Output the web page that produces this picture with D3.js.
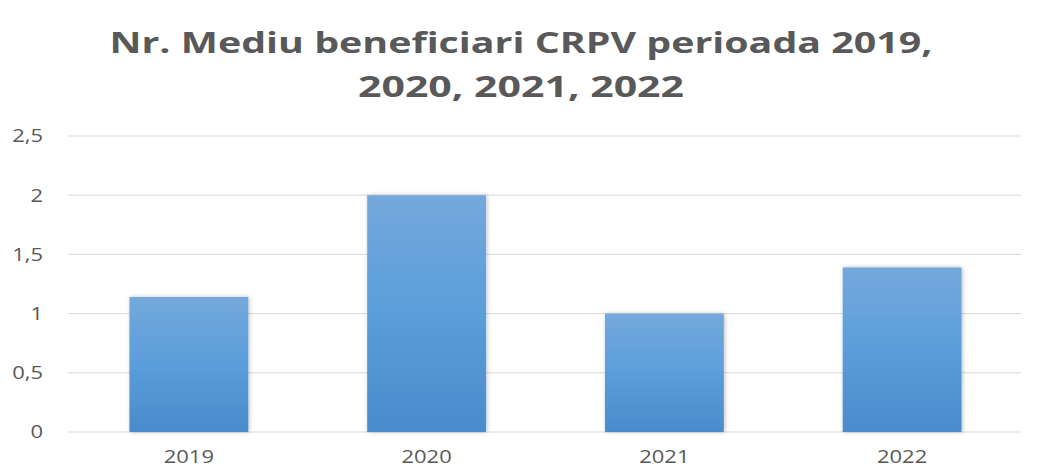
<!DOCTYPE html>
<html>
<head>
<meta charset="utf-8">
<script src="https://cdn.jsdelivr.net/npm/d3@7"></script>
<style>
  body { margin: 0; background: #fff; }
  text { font-family: "Open Sans", "Liberation Sans", sans-serif; }
</style>
</head>
<body>
<div class="canvas"></div>
<script>
// margins and dimensions
const w = 1043;
const h = 476;
const margin = { top: 136, right: 22, bottom: 44, left: 70 };
const graphWidth = w - margin.left - margin.right;
const graphHeight = h - margin.top - margin.bottom;
const stretch = 1.22; // the reference is a little wide, so text gets stretched

// data
const years = ["2019", "2020", "2021", "2022"];
const values = [1.14, 2, 1, 1.39];
const yTicks = [0, 0.5, 1, 1.5, 2, 2.5];
const titleLines = ["Nr. Mediu beneficiari CRPV perioada 2019,", "2020, 2021, 2022"];
const titleWidths = [823, 326];

const svg = d3.select(".canvas").append("svg").attr("width", w).attr("height", h);

// widen a text to match the stretched look
function widen(sel) {
  sel.each(function () {
    const len = this.getComputedTextLength();
    d3.select(this).attr("textLength", len * stretch).attr("lengthAdjust", "spacingAndGlyphs");
  });
}

// gradient + shadow for bars
const defs = svg.append("defs");
const grad = defs.append("linearGradient").attr("id", "barGrad")
  .attr("x1", 0).attr("y1", 0).attr("x2", 0).attr("y2", 1);
grad.append("stop").attr("offset", "0%").attr("stop-color", "#74a9dc");
grad.append("stop").attr("offset", "50%").attr("stop-color", "#5b9ddb");
grad.append("stop").attr("offset", "100%").attr("stop-color", "#4a8bcb");
const shadow = defs.append("filter").attr("id", "shadow")
  .attr("x", "-10%").attr("y", "-10%").attr("width", "120%").attr("height", "120%");
shadow.append("feDropShadow").attr("dx", 1).attr("dy", 0).attr("stdDeviation", 2)
  .attr("flood-color", "#000").attr("flood-opacity", 0.25);

// title
svg.append("g").selectAll("text").data(titleLines).join("text")
  .attr("x", 521)
  .attr("y", (d, i) => 53 + i * 44)
  .attr("text-anchor", "middle")
  .attr("fill", "#595959")
  .attr("font-weight", "bold")
  .attr("font-size", 29)
  .attr("textLength", (d, i) => titleWidths[i])
  .attr("lengthAdjust", "spacingAndGlyphs")
  .text(d => d);

const graph = svg.append("g")
  .attr("transform", `translate(${margin.left}, ${margin.top})`);

const xScale = d3.scaleBand().domain(years).range([0, graphWidth]).paddingInner(0.5).paddingOuter(0.25);
const yScale = d3.scaleLinear().domain([0, 2.5]).range([graphHeight, 0]);

// gridlines
graph.append("g").selectAll("line").data(yTicks).join("line")
  .attr("x1", -2).attr("x2", graphWidth)
  .attr("y1", d => yScale(d)).attr("y2", d => yScale(d))
  .attr("stroke", "#d9d9d9").attr("stroke-width", 1);

// y axis labels
graph.append("g").selectAll("text").data(yTicks).join("text")
  .attr("x", 43 - margin.left)
  .attr("y", d => yScale(d))
  .attr("dy", "0.35em")
  .attr("text-anchor", "end")
  .attr("fill", "#595959")
  .attr("font-size", 18)
  .text(d => String(d).replace(".", ","))
  .call(widen);

// x axis labels
graph.append("g").selectAll("text").data(years).join("text")
  .attr("x", d => xScale(d) + xScale.bandwidth() / 2)
  .attr("y", graphHeight + 31)
  .attr("text-anchor", "middle")
  .attr("fill", "#595959")
  .attr("font-size", 18)
  .text(d => d)
  .call(widen);

// bars
graph.append("g").selectAll("rect").data(values).join("rect")
  .attr("x", (d, i) => xScale(years[i]))
  .attr("width", xScale.bandwidth())
  .attr("y", d => yScale(d))
  .attr("height", d => graphHeight - yScale(d))
  .attr("fill", "url(#barGrad)")
  .attr("filter", "url(#shadow)");
</script>
</body>
</html>
